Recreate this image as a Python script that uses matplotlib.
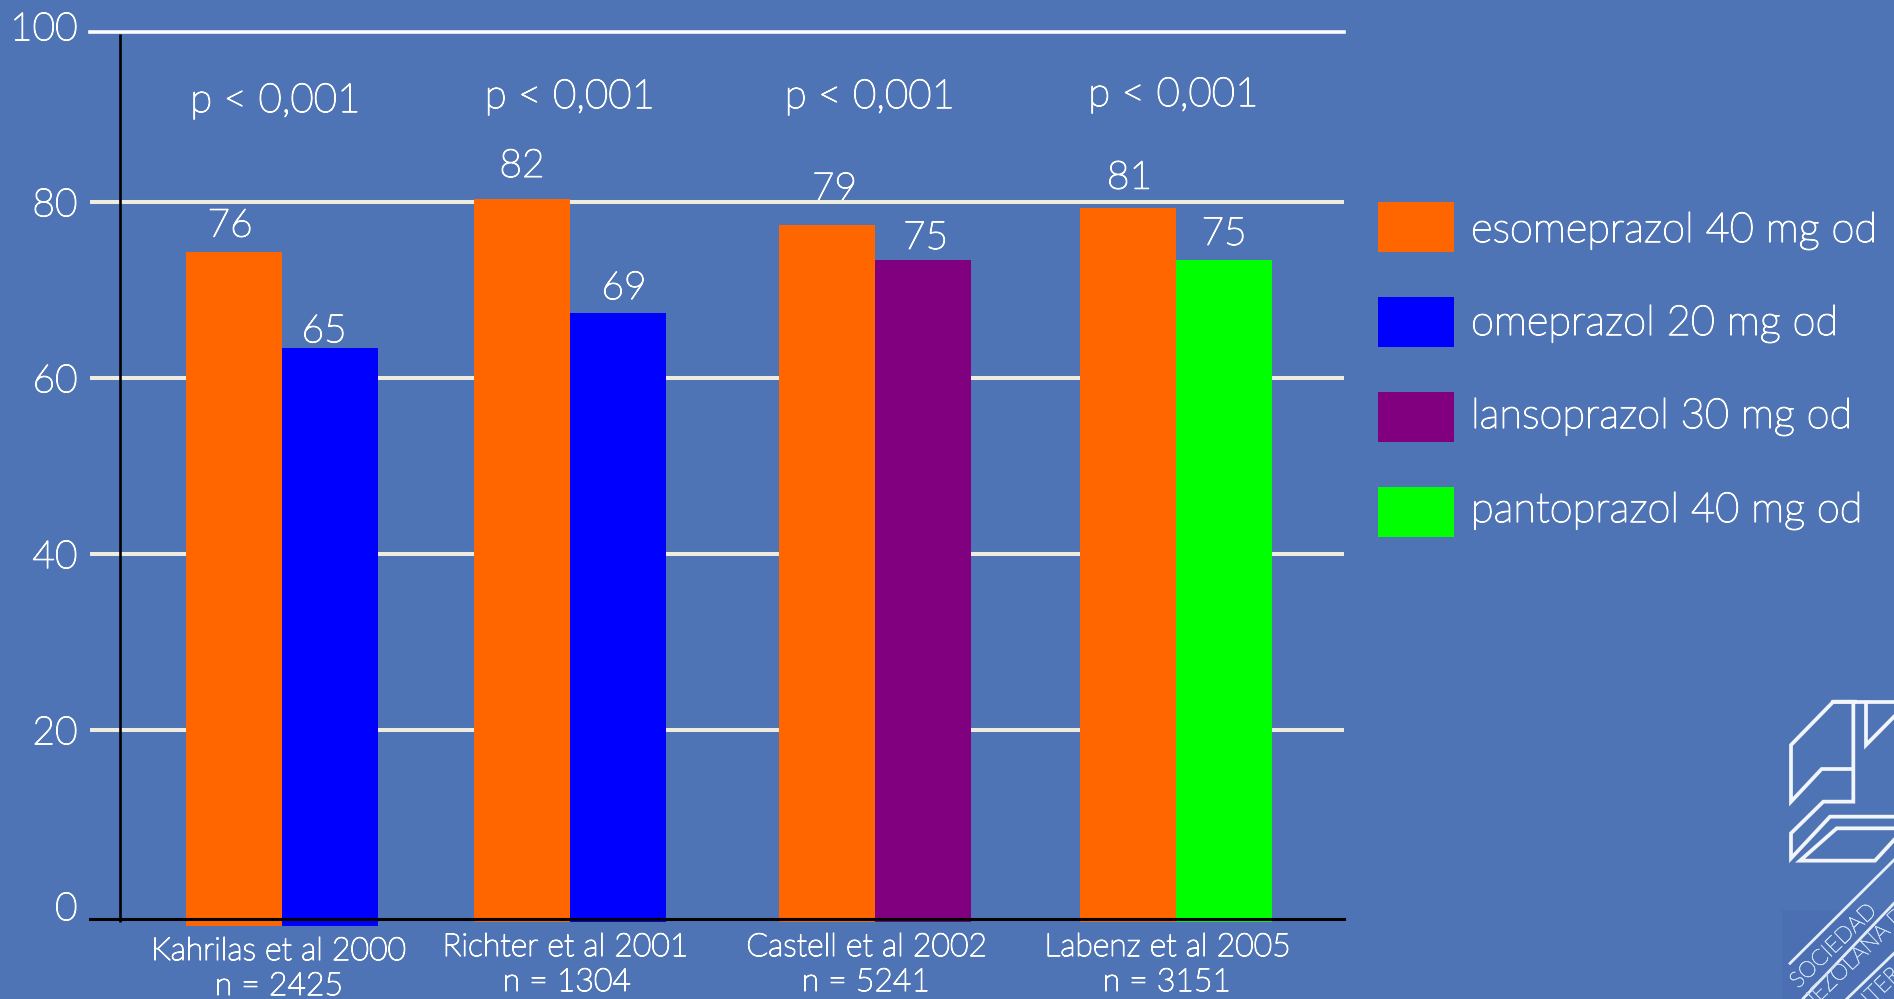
import matplotlib
matplotlib.use("Agg")
from matplotlib import pyplot as plt
from matplotlib import patheffects
from matplotlib.lines import Line2D
from matplotlib.patches import Rectangle
from matplotlib.transforms import Affine2D

W, H = 1894, 999
BG = "#4F74B5"
GRID = "#EEEBDF"
FONT = "Lato"
WEIGHT = "light"
# Lato Light alone is too faint on the blue, so thicken it a little
BOLDER = [patheffects.withStroke(linewidth=0.9, foreground="white")]

studies = ["Kahrilas et al 2000", "Richter et al 2001", "Castell et al 2002", "Labenz et al 2005"]
sizes = ["n = 2425", "n = 1304", "n = 5241", "n = 3151"]
p_values = ["p < 0,001", "p < 0,001", "p < 0,001", "p < 0,001"]
esomeprazol = [76, 82, 79, 81]
comparator = [65, 69, 75, 75]
comparator_names = ["omeprazol", "omeprazol", "lansoprazol", "pantoprazol"]
drugs = ["esomeprazol 40 mg od", "omeprazol 20 mg od", "lansoprazol 30 mg od", "pantoprazol 40 mg od"]
y_ticks = [0, 20, 40, 60, 80, 100]
grid_levels = [20, 40, 60, 80]

colors = {"esomeprazol": "#FF6600", "omeprazol": "#0000FF", "lansoprazol": "#800080", "pantoprazol": "#00FF00"}
legend_colors = [colors["esomeprazol"], colors["omeprazol"], colors["lansoprazol"], colors["pantoprazol"]]

# layout, in figure pixels from the top left corner
group_x = [282, 570, 875, 1176]
bar_w = 96
bar_floor = [-0.8, -0.3, -0.3, -0.3]
p_pos = [(275.5, 112), (570, 108), (870, 108), (1173.5, 106)]
study_pos = [(279, 960), (566, 956), (867, 956), (1168, 956)]
size_pos = [(279, 995), (567, 991), (866, 991), (1167, 991)]
esomeprazol_offset = [(-4, 15), (0, 22), (7.5, 25), (1.5, 19)]
comparator_offset = [(-6, 6), (6, 14), (2.5, 11.5), (0, 15.5)]
legend_y = [202, 297, 392, 487]
legend_base = [242, 335, 428, 522]


def px(x, y):
    return x / W, 1 - y / H


def px_rect(left, top, right, bottom):
    return [left / W, 1 - bottom / H, (right - left) / W, (bottom - top) / H]


plt.rcParams["font.family"] = [FONT, "DejaVu Sans"]
plt.rcParams["font.weight"] = WEIGHT
fig = plt.figure(figsize=(W / 100, H / 100), dpi=100, facecolor=BG)

# ruled axis: the gridlines and tick labels run on their own scale
ax = fig.add_axes(px_rect(90, 16, 1344, 919), facecolor=BG, zorder=1)
ax.set_yticks(y_ticks)
ax.set_xticks([])
ax.set_xlim(90, 1344)
ax.set_ylim(-1.52, 101.1)
ax.tick_params(axis="y", length=0, pad=9, labelsize=28, labelcolor="white")
for label in ax.get_yticklabels():
    label.set_path_effects(BOLDER)
ax.hlines(grid_levels, 90, 1344, color=GRID, lw=2.9, zorder=2)
for side in ["left", "right", "bottom", "top"]:
    ax.spines[side].set_visible(False)

# bars sit above the gridlines on a scale starting at the baseline
ax_bars = fig.add_axes(px_rect(90, 32, 1344, 919), facecolor="none", zorder=2)
ax_bars.set_xlim(90, 1344)
ax_bars.set_ylim(0, 101)
ax_bars.set_xticks([])
ax_bars.set_yticks([])
for side in ["left", "right"]:
    ax_bars.spines[side].set_visible(False)
ax_bars.spines["top"].set_color("white")
ax_bars.spines["top"].set_linewidth(2.6)
ax_bars.spines["bottom"].set_color("black")
ax_bars.spines["bottom"].set_linewidth(2.2)
ax_bars.vlines(120, -0.35, 100.8, color="black", lw=1.9, zorder=3, clip_on=False)

for i, x in enumerate(group_x):
    floor = bar_floor[i]
    ax_bars.bar(x, esomeprazol[i] - floor, bottom=floor, width=-bar_w, align="edge",
                color=colors["esomeprazol"], lw=0, clip_on=False, zorder=1)
    ax_bars.bar(x, comparator[i] - floor, bottom=floor, width=bar_w, align="edge",
                color=colors[comparator_names[i]], lw=0, clip_on=False, zorder=1)

    # value labels go under the gridlines
    for value, offset, centre in [(esomeprazol[i], esomeprazol_offset[i], x - bar_w / 2),
                                  (comparator[i], comparator_offset[i], x + bar_w / 2)]:
        ax.annotate(str(value), xy=(centre, value), xycoords=ax_bars.transData,
                    xytext=offset, textcoords="offset pixels", ha="center", va="baseline",
                    color="white", fontsize=28, zorder=1.5, annotation_clip=False,
                    path_effects=BOLDER)

    fig.text(*px(*p_pos[i]), p_values[i], color="white", fontsize=29, ha="center", va="baseline",
             path_effects=BOLDER)
    fig.text(*px(*study_pos[i]), studies[i], color="white", fontsize=23, ha="center", va="baseline",
             path_effects=BOLDER)
    fig.text(*px(*size_pos[i]), sizes[i], color="white", fontsize=23, ha="center", va="baseline",
             path_effects=BOLDER)

# legend
for name, color, top, base in zip(drugs, legend_colors, legend_y, legend_base):
    fig.add_artist(Rectangle(px(1378, top + 50), 76 / W, 50 / H, color=color, lw=0,
                             transform=fig.transFigure))
    fig.text(*px(1471, base), name, color="white", fontsize=30, ha="left", va="baseline",
             path_effects=BOLDER)

# society emblem in the lower right corner
fig.add_artist(Rectangle(px(1782, 999), 112 / W, 89 / H, color="#4C6FB3", lw=0,
                         transform=fig.transFigure, zorder=-1))
emblem = [
    [(345, 95), (280, 95), (153, 225), (153, 395), (245, 297), (335, 297)],
    [(280, 95), (462, 95)],
    [(340, 100), (340, 395), (250, 395), (153, 490), (153, 565), (270, 440), (462, 440)],
    [(378, 100), (378, 225), (462, 140)],
    [(462, 475), (290, 475), (180, 572), (405, 572), (462, 510)],
]
emblem_stripes = [
    [(150, 880), (462, 570)],
    [(190, 985), (462, 700)],
    [(320, 987), (462, 850)],
]
to_fig = Affine2D().scale(1 / 3).translate(1740, 670).scale(1 / W, -1 / H).translate(0, 1) + fig.transFigure
for stroke in emblem:
    xs, ys = zip(*stroke)
    fig.add_artist(Line2D(xs, ys, color="#F2F5FA", lw=2.7, transform=to_fig, solid_joinstyle="miter"))
for stroke in emblem_stripes:
    xs, ys = zip(*stroke)
    fig.add_artist(Line2D(xs, ys, color="#E4EEF8", lw=2.0, transform=to_fig))
for (x, y), label in [((1798, 989), "SOCIEDAD"), ((1788, 1032), "VENEZOLANA DE"), ((1791, 1083), "GASTROENTEROLOGIA")]:
    fig.text(*px(x, y), label, color="#C9DCF2", fontsize=16, rotation=44, rotation_mode="anchor",
             ha="left", va="baseline", path_effects=[patheffects.withStroke(linewidth=0.5, foreground="#C9DCF2")])

fig.savefig("out.png", dpi=100, facecolor=BG)
